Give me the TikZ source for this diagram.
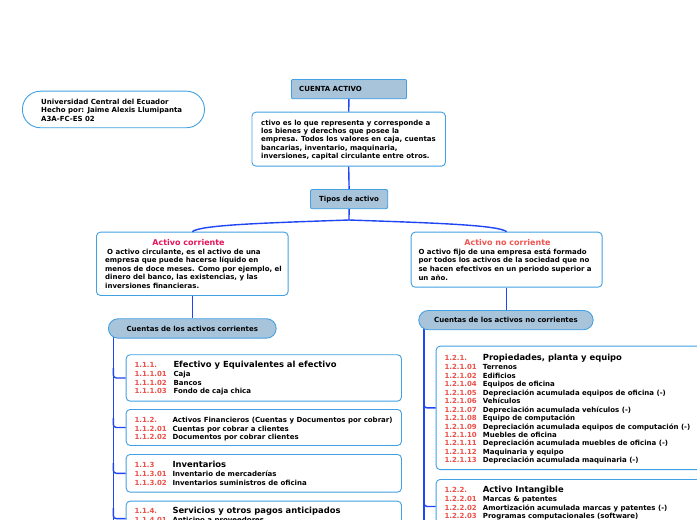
\documentclass[tikz,border=0pt]{standalone}
\usepackage{fontspec}
\setmainfont{DejaVu Sans}
\definecolor{lineblue}{RGB}{30,70,245}
\definecolor{bord}{RGB}{66,160,228}
\definecolor{hdrfill}{RGB}{168,196,218}
\definecolor{codered}{RGB}{236,80,72}
\definecolor{crimson}{RGB}{228,20,92}
\definecolor{coral}{RGB}{240,84,80}
\newcommand\smf{\fontsize{7}{8.6}\selectfont\bfseries}
\newcommand\cd[1]{\textcolor{codered}{#1}}
\newcommand\ttl[1]{{\fontsize{8.4}{8.6}\selectfont\bfseries #1}}
\begin{document}
\begin{tikzpicture}[x=1pt,y=-1pt,
 conn/.style={draw=lineblue,line width=1.4pt},
 card/.style={draw=bord,fill=white,line width=0.9pt,rounded corners=4pt,inner sep=0pt,anchor=north west},
 hdr/.style={draw=bord,fill=hdrfill,line width=0.9pt,rounded corners=2pt,inner sep=0pt,font=\smf,anchor=north west},
 pill/.style={draw=bord,fill=hdrfill,line width=0.9pt,rounded corners=9.6pt,inner sep=0pt,font=\smf,anchor=north west},
 txt/.style={inner sep=0pt,anchor=base west,font=\smf},
 head/.style={inner sep=0pt,anchor=base,font=\fontsize{8}{9}\selectfont\bfseries},
]
\useasboundingbox (0,0) rectangle (697,520);
\clip (0,0) rectangle (697,520);
\fill[white] (0,0) rectangle (697,520);

% top pill
\node[card,rounded corners=18pt,minimum width=182,minimum height=36.6] (uni) at (22,90.7) {};
\node[txt] (unit) at (41,104.1) {\begin{tabular}[t]{@{}l@{}}Universidad Central del Ecuador\\Hecho por: Jaime Alexis Llumipanta\\A3A-FC-ES 02\end{tabular}};

% header
\node[hdr,rounded corners=1pt,minimum width=115,minimum height=19.3] (ca) at (291,79) {};
\node[txt] (cat) at (299,91.5) {CUENTA ACTIVO};

% definition
\node[card,minimum width=193.5,minimum height=54] (def) at (251.5,111.7) {};
\node[txt,font=\fontsize{7}{8.35}\selectfont\bfseries] (deft) at (261,125.1) {\begin{tabular}[t]{@{}l@{}}ctivo es lo que representa y corresponde a\\los bienes y derechos que posee la\\empresa. Todos los valores en caja, cuentas\\bancarias, inventario, maquinaria,\\inversiones, capital circulante entre otros.\end{tabular}};

% tipos
\node[hdr,minimum width=77.3,minimum height=19.3] (tipos) at (310,189) {Tipos de activo};

% activo corriente
\node[card,minimum width=191.7,minimum height=63.3] (ac) at (96,231.7) {};
\node[head,text=crimson] (act) at (188.5,245.6) {Activo corriente};
\node[txt] (acb) at (105,254.1) {\begin{tabular}[t]{@{}l@{}}\hspace*{2pt}O activo circulante, es el activo de una\\empresa que puede hacerse líquido en\\menos de doce meses. Como por ejemplo, el\\dinero del banco, las existencias, y las\\inversiones financieras.\end{tabular}};

% activo no corriente
\node[card,minimum width=191,minimum height=55] (anc) at (410.7,231.7) {};
\node[head,text=coral] (anct) at (507.5,245.6) {Activo no corriente};
\node[txt,font=\fontsize{7}{8.65}\selectfont\bfseries] (ancb) at (418.3,254.1) {\begin{tabular}[t]{@{}l@{}}O activo fijo de una empresa está formado\\por todos los activos de la sociedad que no\\se hacen efectivos en un periodo superior a\\un año.\end{tabular}};

% connectors top
\coordinate (jn) at (349,220);
\draw[conn] (ca.south) -- (def.north);
\draw[conn] (def.south) -- (tipos.north);
\draw[conn] (tipos.south) -- (jn);
\draw[conn] (jn) .. controls (262,223) and (200,225) .. (ac.north);
\draw[conn] (jn) .. controls (436,223) and (498,225) .. (anc.north);

% vertical trunks
\coordinate (lvtop) at (113.3,332);
\coordinate (lvend) at (113.3,530);
\coordinate (rvtop) at (424,323);
\coordinate (rvend) at (424,530);
\draw[conn] (lvtop) -- (lvend);
\draw[conn] (rvtop) -- (rvend);

% cuentas pills
\node[pill,minimum width=167.7,minimum height=19.4] (cac) at (108,318.3) {Cuentas de los activos corrientes};
\node[pill,minimum width=174.4,minimum height=19.3] (cnc) at (418.3,310) {Cuentas de los activos no corrientes};
\draw[conn] (ac.south) -- (cac.north);
\draw[conn] (anc.south) -- (anc.south |- cnc.north);

% left children
\node[card,minimum width=275.3,minimum height=46.4] (l1) at (125.7,354.3) {};
\node[card,minimum width=275.3,minimum height=36] (l2) at (125.7,409) {};
\node[card,minimum width=275.3,minimum height=37.7] (l3) at (125.7,454) {};
\node[card,minimum width=275.3,minimum height=35] (l4) at (125.7,500.7) {};
\draw[conn,rounded corners=3pt] (113.3,368) |- (l1.west);
\draw[conn,rounded corners=3pt] (113.3,418) |- (l2.west);
\draw[conn,rounded corners=3pt] (113.3,463) |- (l3.west);
\draw[conn,rounded corners=3pt] (113.3,508) |- (l4.west);

\node[txt] (l1t) at (134.3,367.9) {\begin{tabular}[t]{@{}p{39pt}@{}l@{}}\cd{1.1.1.} & \ttl{Efectivo y Equivalentes al efectivo}\\
\cd{1.1.1.01} & Caja\\ \cd{1.1.1.02} & Bancos\\ \cd{1.1.1.03} & Fondo de caja chica\end{tabular}};
\node[txt] (l2t) at (134.3,422.4) {\begin{tabular}[t]{@{}p{38pt}@{}l@{}}\cd{1.1.2.} & Activos Financieros (Cuentas y Documentos por cobrar)\\
\cd{1.1.2.01} & Cuentas por cobrar a clientes\\ \cd{1.1.2.02} & Documentos por cobrar clientes\end{tabular}};
\node[txt] (l3t) at (134.3,467.9) {\begin{tabular}[t]{@{}p{38pt}@{}l@{}}\cd{1.1.3} & \ttl{Inventarios}\\
\cd{1.1.3.01} & Inventario de mercaderías\\ \cd{1.1.3.02} & Inventarios suministros de oficina\end{tabular}};
\node[txt] (l4t) at (134.3,513.9) {\begin{tabular}[t]{@{}p{38pt}@{}l@{}}\cd{1.1.4.} & \ttl{Servicios y otros pagos anticipados}\\
\cd{1.1.4.01} & Anticipo a proveedores\end{tabular}};

% right children
\node[card,minimum width=290,minimum height=123.5] (r1) at (435.7,345.7) {};
\node[card,minimum width=290,minimum height=54] (r2) at (435.7,479) {};
\draw[conn,rounded corners=3pt] (424,398) |- (r1.west);
\draw[conn,rounded corners=3pt] (424,496) |- (r2.west);

\node[txt,font=\fontsize{7}{8.45}\selectfont\bfseries] (r1t) at (444.3,360.2) {\begin{tabular}[t]{@{}p{38.4pt}@{}l@{}}\cd{1.2.1.} & \ttl{Propiedades, planta y equipo}\\[1.2pt]
\cd{1.2.1.01} & Terrenos\\
\cd{1.2.1.02} & Edificios\\
\cd{1.2.1.04} & Equipos de oficina\\
\cd{1.2.1.05} & Depreciación acumulada equipos de oficina (-)\\
\cd{1.2.1.06} & Vehículos\\
\cd{1.2.1.07} & Depreciación acumulada vehículos (-)\\
\cd{1.2.1.08} & Equipo de computación\\
\cd{1.2.1.09} & Depreciación acumulada equipos de computación (-)\\
\cd{1.2.1.10} & Muebles de oficina\\
\cd{1.2.1.11} & Depreciación acumulada muebles de oficina (-)\\
\cd{1.2.1.12} & Maquinaria y equipo\\
\cd{1.2.1.13} & Depreciación acumulada maquinaria (-)\end{tabular}};
\node[txt] (r2t) at (444.3,492.9) {\begin{tabular}[t]{@{}p{38.4pt}@{}l@{}}\cd{1.2.2.} & \ttl{Activo Intangible}\\
\cd{1.2.2.01} & Marcas \& patentes\\
\cd{1.2.2.02} & Amortización acumulada marcas y patentes (-)\\
\cd{1.2.2.03} & Programas computacionales (software)\end{tabular}};
\end{tikzpicture}
\end{document}
